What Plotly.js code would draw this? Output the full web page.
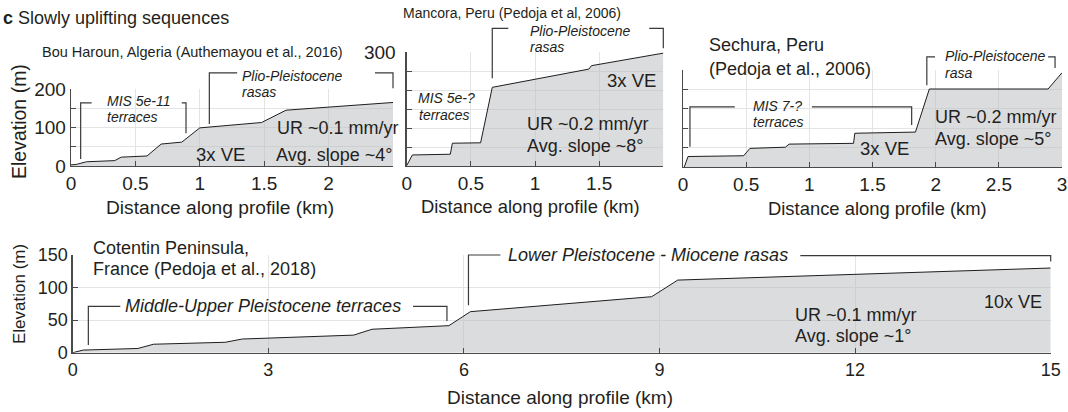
<!DOCTYPE html>
<html><head><meta charset="utf-8">
<script src="https://cdn.plot.ly/plotly-3.0.1.min.js"></script>
<style>html,body{margin:0;padding:0;background:#fff}#chart{width:1068px;height:412px}</style>
</head><body><div id="chart"></div>
<script>
// ---------- DATA (distance km, elevation m) ----------
// Bou Haroun, Algeria
const bouX = [0, 0.04, 0.12, 0.34, 0.39, 0.59, 0.70, 0.86, 1.0, 1.48, 1.67, 2.5];
const bouY = [3, 4, 11, 14, 23, 26, 57, 62, 99, 113, 145, 165];
// Mancora, Peru
const manX = [0, 0.044, 0.34, 0.356, 0.576, 0.667, 1.42, 1.44, 2.0];
const manY = [1, 29, 31, 60, 61, 207, 255, 264, 297];
// Sechura, Peru
const secX = [0.01, 0.04, 0.48, 0.53, 0.81, 0.84, 1.35, 1.36, 1.84, 1.95, 2.89, 3.0];
const secY = [0, 27, 29, 48, 51, 59, 61, 87, 90, 201, 201, 243];
// Cotentin Peninsula, France
const cotX = [0, 0.16, 1.0, 1.24, 2.34, 2.6, 4.31, 4.59, 5.77, 6.1, 8.88, 9.28, 15];
const cotY = [0, 4, 6.5, 13, 16, 21, 27, 36, 41.5, 63, 86, 111.5, 130];

// tick labels
const tick1X = [0, 0.5, 1, 1.5, 2];
const tick1Y = [0, 50, 100, 150, 200];
const tick1YText = ['0', '', '100', '', '200'];
const tick2X = [0, 0.5, 1, 1.5];
const tick2Y = [0, 50, 100, 150, 200, 250, 300];
const tick2YText = ['', '', '', '', '', '', '300'];
const tick3X = [0, 0.5, 1, 1.5, 2, 2.5, 3];
const tick3XText = ['0', '0.5', '1', '1.5', '2', '2.5', '3'];
const tick3Y = [0, 50, 100, 150, 200, 250];
const tick4X = [0, 3, 6, 9, 12, 15];
const tick4Y = [0, 50, 100, 150];

// bracket groups [x,y] in data units per panel
const br1 = [[[0.075,18],[0.075,164],[0.16,164]], [[0.86,164],[0.893,164],[0.893,85]],
             [[1.074,109],[1.074,242],[1.29,242]], [[2.36,242],[2.5,242],[2.5,202]]];
const br2 = [[[0.667,231],[0.667,362],[0.792,362]], [[1.89,362],[2.0,362],[2.0,310]]];
const br3 = [[[0.055,52],[0.055,155],[0.41,155]], [[1.02,155],[1.81,155],[1.81,108]],
             [[1.93,211],[1.93,284],[1.995,284]], [[2.89,284],[2.945,284],[2.945,255]]];
const br4 = [[[0.24,12],[0.24,71],[0.73,71]], [[5.22,71],[5.74,71],[5.74,48.7]],
             [[6.07,73],[6.07,150],[6.56,150]], [[11.16,149],[15,149],[15,140]]];

// ---------- LAYOUT ----------
const W = 1068, H = 412;
const FONT = 'Liberation Sans, Arial, Helvetica, sans-serif';
const TXT = '#231f20';
const P = {
  p1: {xd: [71/W, 393/W], yd: [1-166/H, 1-89/H], xr: [0, 2.5], yr: [0, 200]},
  p2: {xd: [406.7/W, 663.3/W], yd: [1-166/H, 1-52/H], xr: [0, 2], yr: [0, 300]},
  p3: {xd: [683/W, 1062/W], yd: [1-167/H, 1-70/H], xr: [0, 3], yr: [0, 250]},
  p4: {xd: [72.7/W, 1050.7/W], yd: [1-352.7/H, 1-255/H], xr: [0, 15], yr: [0, 150]}
};
function px(p, x) { return p.xd[0] + (x - p.xr[0]) / (p.xr[1] - p.xr[0]) * (p.xd[1] - p.xd[0]); }
function py(p, y) { return p.yd[0] + (y - p.yr[0]) / (p.yr[1] - p.yr[0]) * (p.yd[1] - p.yd[0]); }

const profileStyle = {type: 'scatter', mode: 'lines', fill: 'tozeroy',
  fillcolor: 'rgba(186,188,191,0.52)', line: {color: '#1e1e1e', width: 1}, hoverinfo: 'skip', showlegend: false};
const data = [
  Object.assign({x: bouX, y: bouY, xaxis: 'x', yaxis: 'y'}, profileStyle),
  Object.assign({x: manX, y: manY, xaxis: 'x2', yaxis: 'y2'}, profileStyle),
  Object.assign({x: secX, y: secY, xaxis: 'x3', yaxis: 'y3'}, profileStyle),
  Object.assign({x: cotX, y: cotY, xaxis: 'x4', yaxis: 'y4'}, profileStyle)
];

function ax(extra) {
  return Object.assign({
    showline: true, linecolor: '#4a4a4a', linewidth: 1.3, ticks: 'inside', ticklen: 5,
    tickcolor: '#4a4a4a', tickwidth: 1, showgrid: true, gridcolor: '#e4e4e4', gridwidth: 1,
    zeroline: false, fixedrange: true, tickmode: 'array',
    tickfont: {family: FONT, size: 19, color: TXT}
  }, extra);
}

const layout = {
  width: W, height: H, margin: {l: 0, r: 0, t: 0, b: 0},
  paper_bgcolor: '#fff', plot_bgcolor: 'rgba(0,0,0,0)', showlegend: false,
  xaxis: ax({domain: P.p1.xd, range: P.p1.xr, anchor: 'y', tickvals: tick1X}),
  yaxis: ax({domain: P.p1.yd, range: P.p1.yr, anchor: 'x', tickvals: tick1Y, ticktext: tick1YText}),
  xaxis2: ax({domain: P.p2.xd, range: P.p2.xr, anchor: 'y2', tickvals: tick2X}),
  yaxis2: ax({domain: P.p2.yd, range: P.p2.yr, anchor: 'x2', tickvals: tick2Y, ticktext: tick2YText, ticklabelstandoff: 6}),
  xaxis3: ax({domain: P.p3.xd, range: P.p3.xr, anchor: 'y3', tickvals: tick3X, ticktext: tick3XText}),
  yaxis3: ax({domain: P.p3.yd, range: P.p3.yr, anchor: 'x3', tickvals: tick3Y, showticklabels: false}),
  xaxis4: ax({domain: P.p4.xd, range: P.p4.xr, anchor: 'y4', tickvals: tick4X, tickfont: {family: FONT, size: 18, color: TXT}}),
  yaxis4: ax({domain: P.p4.yd, range: P.p4.yr, anchor: 'x4', tickvals: tick4Y, tickfont: {family: FONT, size: 18, color: TXT}}),
  shapes: [], annotations: []
};

// brackets
[[P.p1, br1], [P.p2, br2], [P.p3, br3], [P.p4, br4]].forEach(([p, groups]) => {
  groups.forEach(g => {
    const path = g.map((pt, i) => (i ? 'L' : 'M') + px(p, pt[0]).toFixed(5) + ',' + py(p, pt[1]).toFixed(5)).join(' ');
    layout.shapes.push({type: 'path', xref: 'paper', yref: 'paper', path: path,
      line: {color: '#3a3a3a', width: 1.2}});
  });
});

// text labels (positions in pixels of the 1068x412 canvas)
function T(text, x, y, size, opts) {
  opts = opts || {};
  layout.annotations.push(Object.assign({
    text: text, xref: 'paper', yref: 'paper', x: x / W, y: 1 - y / H,
    xanchor: 'left', yanchor: 'middle', showarrow: false,
    font: {family: FONT, size: size, color: TXT}
  }, opts));
}
const I = s => '<i>' + s + '</i>';

T('<b>c</b> Slowly uplifting sequences', 1, 18, 18);
// panel 1
T('Bou Haroun, Algeria (Authemayou et al., 2016)', 40, 52, 14.5);
T(I('MIS 5e-11'), 105, 101, 14); T(I('terraces'), 105, 117, 14);
T(I('Plio-Pleistocene'), 240, 76, 14); T(I('rasas'), 240, 92, 14);
T('3x VE', 194, 155, 18.5);
T('UR ~0.1 mm/yr', 275, 128, 18); T('Avg. slope ~4°', 274, 155, 18);
// panel 2
T('Mancora, Peru (Pedoja et al, 2006)', 401, 13, 14);
T(I('MIS 5e-?'), 416, 98, 14); T(I('terraces'), 417, 115, 14);
T(I('Plio-Pleistocene'), 528, 31, 14); T(I('rasas'), 528, 47, 14);
T('3x VE', 605, 80, 18.5);
T('UR ~0.2 mm/yr', 525, 124, 18); T('Avg. slope ~8°', 525, 146, 18);
// panel 3
T('Sechura, Peru', 707, 45, 18); T('(Pedoja et al., 2006)', 707, 69, 18);
T(I('MIS 7-?'), 751, 106, 14); T(I('terraces'), 751, 122, 14);
T(I('Plio-Pleistocene'), 943, 56, 14); T(I('rasa'), 943, 73, 14);
T('3x VE', 858, 149, 18.5);
T('UR ~0.2 mm/yr', 933, 117, 18); T('Avg. slope ~5°', 933, 139, 18);
// panel 4
T('Cotentin Peninsula,', 91, 248, 18); T('France (Pedoja et al., 2018)', 91, 269, 18);
T(I('Middle-Upper Pleistocene terraces'), 123, 306, 18);
T(I('Lower Pleistocene - Miocene rasas'), 506, 255, 18);
T('UR ~0.1 mm/yr', 793, 315, 18); T('Avg. slope ~1°', 793, 336, 18);
T('10x VE', 982, 302, 18);
// axis titles
T('Elevation (m)', 19, 122, 19.5, {xanchor: 'center', textangle: -90});
T('Elevation (m)', 19, 294, 17, {xanchor: 'center', textangle: -90});
T('Distance along profile (km)', 220, 207, 19.2, {xanchor: 'center'});
T('Distance along profile (km)', 530, 206, 18.4, {xanchor: 'center'});
T('Distance along profile (km)', 877.5, 208, 18.4, {xanchor: 'center'});
T('Distance along profile (km)', 560, 397, 19, {xanchor: 'center'});

Plotly.newPlot('chart', data, layout, {displayModeBar: false, staticPlot: true});
</script>
</body></html>
